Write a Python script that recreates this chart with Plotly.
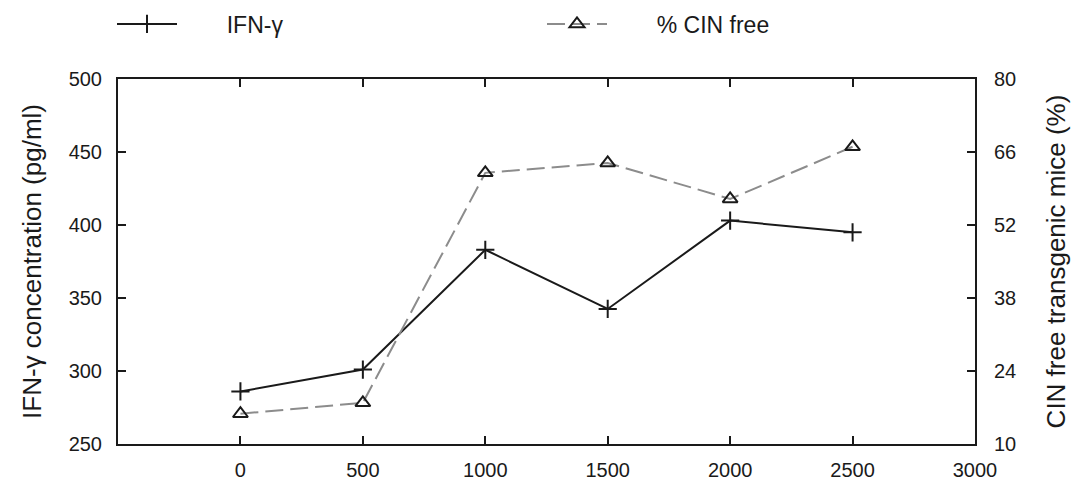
import plotly.graph_objects as go

doses = [0, 500, 1000, 1500, 2000, 2500]
ifn_gamma = [286, 301, 383, 342.5, 403, 395]
cin_free_pct = [15.8, 17.9, 62, 63.9, 57, 67]

x_ticks = [0, 500, 1000, 1500, 2000, 2500, 3000]
y_left_ticks = [250, 300, 350, 400, 450, 500]
y_right_ticks = [10, 24, 38, 52, 66, 80]

FONT = "Liberation Sans, Arial, sans-serif"
INK = "#1a1a1a"
GAP = "\u00a0" * 7

fig = go.Figure()
fig.add_trace(go.Scatter(
    x=doses, y=ifn_gamma, name=GAP + "IFN-\u03b3", mode="lines+markers",
    line=dict(color=INK, width=2),
    marker=dict(symbol="cross-thin", size=13, line=dict(color=INK, width=2)),
    legend="legend",
))
fig.add_trace(go.Scatter(
    x=doses, y=cin_free_pct, name=GAP + "% CIN free", mode="lines+markers",
    line=dict(color="#8c8c8c", width=2, dash="18px,7px"),
    marker=dict(symbol="triangle-up-open", size=13, color=INK, line=dict(color=INK, width=2)),
    yaxis="y2", legend="legend2",
))

axis_common = dict(
    showline=True, linecolor=INK, linewidth=2, ticks="inside", tickcolor=INK,
    tickwidth=2, ticklen=8, showgrid=False, zeroline=False, automargin=False,
    tickfont=dict(family=FONT, size=20, color=INK),
)

legend_common = dict(xref="container", yref="container", y=1 - 24 / 480,
                     xanchor="left", yanchor="middle", orientation="h", itemwidth=60,
                     font=dict(family=FONT, size=23, color=INK), bgcolor="rgba(0,0,0,0)")

fig.update_layout(
    width=1076, height=480,
    paper_bgcolor="white", plot_bgcolor="white",
    margin=dict(l=118, r=101, t=79, b=36),
    font=dict(family=FONT, color=INK),
    xaxis=dict(range=[-500, 3000], tickvals=x_ticks, mirror="ticks",
               ticklabelstandoff=7, **axis_common),
    yaxis=dict(range=[250, 500], tickvals=y_left_ticks, ticklabelstandoff=10,
               title=dict(text="IFN-\u03b3 concentration (pg/ml)", standoff=20,
                          font=dict(family=FONT, size=26, color=INK)),
               **axis_common),
    yaxis2=dict(range=[10, 80], tickvals=y_right_ticks, overlaying="y", side="right",
                ticklabelstandoff=13,
                title=dict(text="CIN free transgenic mice (%)", standoff=32,
                           font=dict(family=FONT, size=26, color=INK)),
                **axis_common),
    legend=dict(x=112 / 1076, **legend_common),
    legend2=dict(x=542 / 1076, **legend_common),
    showlegend=True,
)

fig.write_html("out.html", config={"displayModeBar": False},
               post_script="document.body.style.margin='0px';")
